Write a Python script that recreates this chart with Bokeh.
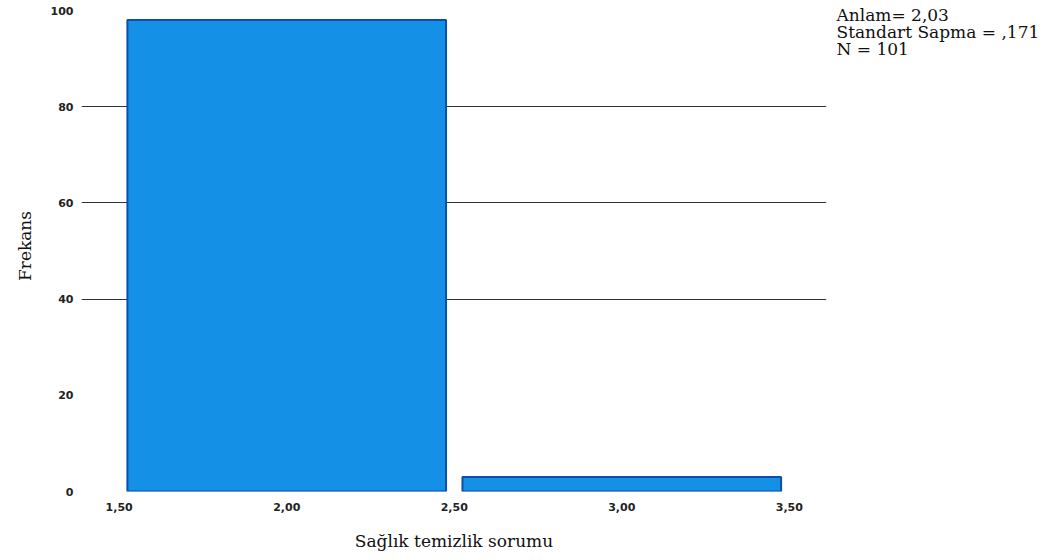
from bokeh.plotting import figure
from bokeh.layouts import row
from bokeh.models import FixedTicker, CustomJSTickFormatter, Range1d, Title
from bokeh.core.properties import value
from bokeh.embed import file_html
from bokeh.resources import INLINE

# ---- data ----
bin_centers = [2.0, 3.0]
frequencies = [98, 3]
x_ticks = [1.5, 2.0, 2.5, 3.0, 3.5]
y_ticks = [0, 20, 40, 60, 80, 100]
grid_ticks = [40, 60, 80]
x_title = "Sağlık temizlik sorumu"
y_title = "Frekans"
stats_lines = ["Anlam= 2,03", "Standart Sapma = ,171", "N = 101"]

SERIF = "DejaVu Serif"
TICKFONT = "DejaVu Sans"
H = 556
FRAME_BOTTOM = 491  # px from top of page

p = figure(width=830, height=H, output_backend="svg", toolbar_location=None,
           x_range=Range1d(1.3875, 3.611), y_range=Range1d(0, 102.08),
           min_border_left=80, min_border_right=4, min_border_top=0,
           min_border_bottom=H - FRAME_BOTTOM)
p.outline_line_color = None
p.background_fill_color = "white"
p.border_fill_color = "white"

p.vbar(x=bin_centers, top=frequencies, width=0.951, bottom=0,
       fill_color="#1490e6", line_color="#0d4fa8", line_width=2)

for ax in (p.xaxis[0], p.yaxis[0]):
    ax.axis_line_color = None
    ax.major_tick_line_color = None
    ax.minor_tick_line_color = None
    ax.major_label_text_font = TICKFONT
    ax.major_label_text_font_style = "bold"
    ax.major_label_text_font_size = "11px"
    ax.major_label_text_color = "#222222"

p.xaxis.ticker = FixedTicker(ticks=x_ticks)
p.xaxis.formatter = CustomJSTickFormatter(code="return tick.toFixed(2).replace('.', ',');")
p.xaxis.major_label_standoff = 5
p.xaxis.axis_label = x_title
p.xaxis.axis_label_text_font = SERIF
p.xaxis.axis_label_text_font_style = "normal"
p.xaxis.axis_label_text_font_size = "17px"
p.xaxis.axis_label_text_color = "#111111"
p.xaxis.axis_label_standoff = 17

p.yaxis.ticker = FixedTicker(ticks=y_ticks)
p.yaxis.major_label_standoff = 2

p.xgrid.grid_line_color = None
p.ygrid.ticker = FixedTicker(ticks=grid_ticks)
p.ygrid.grid_line_color = "#333333"
p.ygrid.grid_line_width = 1

p.add_layout(Title(text=y_title, align="center", text_font=SERIF,
                   text_font_style="normal", text_font_size="17px",
                   text_color="#111111", standoff=25), "left")

# stats panel to the right (its frame is aligned with the main frame: 0..FRAME_BOTTOM px)
p2 = figure(width=215, height=H, output_backend="svg", toolbar_location=None,
            x_range=Range1d(0, 215), y_range=Range1d(FRAME_BOTTOM, 0),
            x_axis_location=None, y_axis_location=None,
            min_border_left=0, min_border_right=0, min_border_top=0,
            min_border_bottom=H - FRAME_BOTTOM)
p2.outline_line_color = None
p2.grid.visible = False
p2.text(x=[6, 6, 6], y=[14, 31, 48], text=stats_lines,
        text_font=value(SERIF), text_font_size="17px",
        text_baseline="middle", text_align="left", text_color="#111111")

open("out.html", "w").write(file_html(row(p, p2), INLINE))
